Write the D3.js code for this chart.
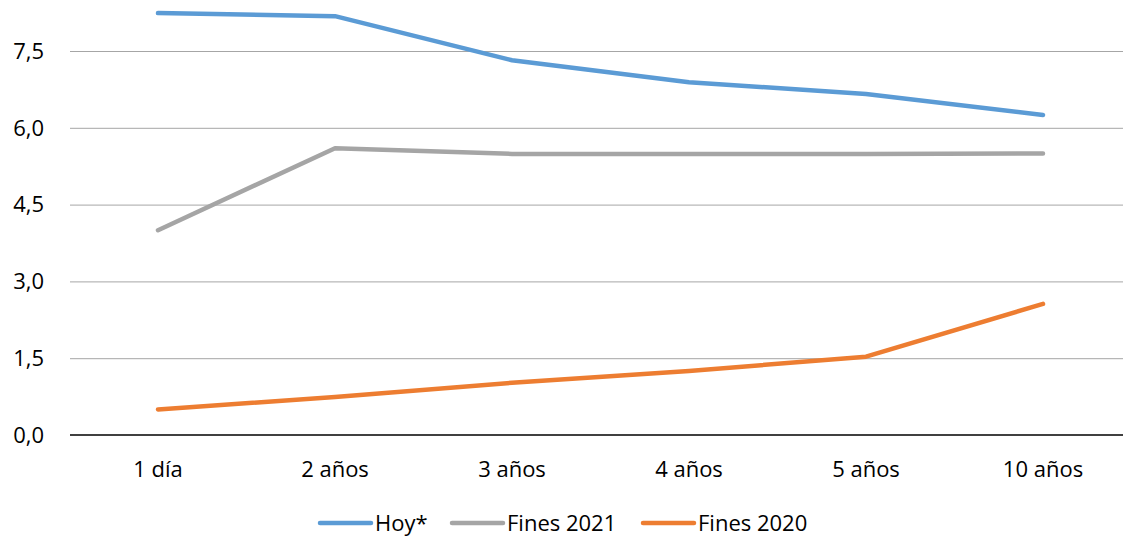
<!DOCTYPE html>
<html><head><meta charset="utf-8">
<script src="https://cdn.jsdelivr.net/npm/d3@7"></script>
<style>body{margin:0;background:#fff}svg{display:block;font-family:"Open Sans","Noto Sans",sans-serif}</style>
</head><body><svg id="c" width="1123" height="540"></svg>
<script>
const categories = ["1 día","2 años","3 años","4 años","5 años","10 años"];
const hoy = [8.24, 8.18, 7.32, 6.89, 6.66, 6.25];
const fines2021 = [4.0, 5.6, 5.49, 5.49, 5.49, 5.5];
const fines2020 = [0.5, 0.74, 1.02, 1.25, 1.53, 2.56];
const yTicks = [0, 1.5, 3.0, 4.5, 6.0, 7.5];
const seriesNames = ["Hoy*","Fines 2021","Fines 2020"];
const seriesColors = ["#5B9BD5","#A5A5A5","#ED7D31"];
const seriesData = [hoy, fines2021, fines2020];

const svg = d3.select("#c");
const x = d3.scalePoint().domain(categories).range([158, 1043]);
const y = d3.scaleLinear().domain([0, 7.5]).range([435, 51]);

const fmt = d => d3.format(".1f")(d).replace(".", ",");

// gridlines
svg.append("g").selectAll("line").data(yTicks.filter(d=>d>0)).join("line")
  .attr("x1", 70).attr("x2", 1123).attr("y1", d=>y(d)+0.5).attr("y2", d=>y(d)+0.5)
  .attr("stroke", "#a6a6a6").attr("stroke-width", 1);
// baseline
svg.append("line").attr("x1",70).attr("x2",1123).attr("y1",y(0)).attr("y2",y(0))
  .attr("stroke","#000").attr("stroke-width",1.5);

// y labels
svg.append("g").selectAll("text").data(yTicks).join("text")
  .attr("x", 44).attr("y", d=>y(d)).attr("dy","0.35em").attr("text-anchor","end")
  .attr("font-size", 22).attr("fill","#000").text(fmt);

// x labels
svg.append("g").selectAll("text").data(categories).join("text")
  .attr("x", d=>x(d)).attr("y", 477).attr("text-anchor","middle")
  .attr("font-size", 22).attr("fill","#000").text(d=>d);

const line = d3.line().x((d,i)=>x(categories[i])).y(d=>y(d));
svg.append("g").selectAll("path").data(seriesData).join("path")
  .attr("d", line).attr("fill","none")
  .attr("stroke", (d,i)=>seriesColors[i]).attr("stroke-width", 4.5)
  .attr("stroke-linecap","round").attr("stroke-linejoin","round");

// legend
const legX = [320, 452, 643];
const lg = svg.append("g").selectAll("g").data(seriesNames).join("g")
  .attr("transform", (d,i)=>`translate(${legX[i]},523)`);
lg.append("line").attr("x1",0).attr("x2",51).attr("stroke",(d,i)=>seriesColors[i])
  .attr("stroke-width",4.5).attr("stroke-linecap","round");
lg.append("text").attr("x",55).attr("dy","0.35em").attr("font-size",22).attr("fill","#000").text(d=>d);
</script></body></html>
